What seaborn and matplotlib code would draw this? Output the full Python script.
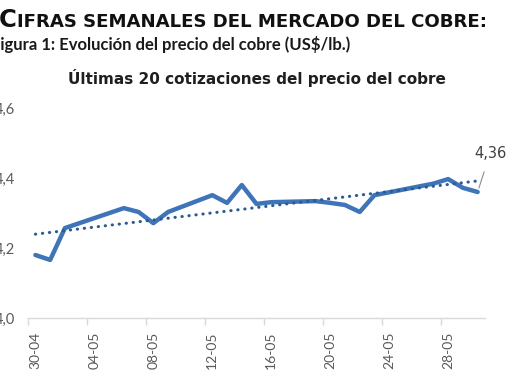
import matplotlib
matplotlib.use("Agg")
import matplotlib.pyplot as plt
import numpy as np
import pandas as pd
import seaborn as sns

# Datos: últimas cotizaciones del cobre (US$/lb.)
fechas = ["30-04", "01-05", "02-05", "06-05", "07-05", "08-05", "09-05",
          "12-05", "13-05", "14-05", "15-05", "16-05", "19-05", "20-05",
          "21-05", "22-05", "23-05", "27-05", "28-05", "29-05", "30-05"]
precios = [4.180, 4.166, 4.257, 4.314, 4.303, 4.271, 4.303,
           4.351, 4.329, 4.380, 4.326, 4.331, 4.334, 4.329,
           4.323, 4.303, 4.351, 4.384, 4.397, 4.372, 4.360]
x_tick_labels = ["30-04", "04-05", "08-05", "12-05", "16-05", "20-05", "24-05", "28-05"]
y_ticks = [4.0, 4.2, 4.4, 4.6]
y_tick_labels = ["4,0", "4,2", "4,4", "4,6"]
ultimo_label = "4,36"

df = pd.DataFrame({"fecha": fechas, "precio": precios})
df["dt"] = pd.to_datetime(df["fecha"] + "-2025", format="%d-%m-%Y")
df["dia"] = (df["dt"] - df["dt"].iloc[0]).dt.days
tick_pos = [(pd.to_datetime(t + "-2025", format="%d-%m-%Y") - df["dt"].iloc[0]).days
            for t in x_tick_labels]

sns.set_theme(style="white")
plt.rcParams["font.family"] = ["DejaVu Sans"]

fig = plt.figure(figsize=(5.1, 3.82), dpi=100)
ax = fig.add_axes([0.055, 0.1675, 0.896, 0.5497])

# serie principal
sns.lineplot(data=df, x="dia", y="precio", ax=ax, color="#3f74b8",
             linewidth=3.2, solid_joinstyle="round", solid_capstyle="round")

# línea de tendencia (lineal)
sns.regplot(data=df, x="dia", y="precio", ax=ax, scatter=False, ci=None,
            line_kws=dict(color="#2c5a92", linewidth=2.2,
                          linestyle=(0, (0.1, 2.2)), dash_capstyle="round",
                          zorder=4))

ax.set_xlim(-0.5, 30.5)
ax.set_ylim(4.0, 4.6)
ax.set_xlabel("")
ax.set_ylabel("")

ax.set_yticks(y_ticks)
ax.set_yticklabels(y_tick_labels, family="Lato")
ax.tick_params(axis="y", length=0, pad=9.5, labelsize=10.5, labelcolor="#595959")

ax.set_xticks(tick_pos)
ax.set_xticklabels(x_tick_labels, rotation=90, family="Lato")
ax.set_xticks([p - 0.5 for p in tick_pos], minor=True)
ax.tick_params(axis="x", which="major", length=0, pad=10, labelsize=10,
               labelcolor="#595959")
ax.tick_params(axis="x", which="minor", bottom=True, length=5, width=1,
               color="#d9d9d9")

for s in ["left", "right", "top"]:
    ax.spines[s].set_visible(False)
ax.spines["bottom"].set_color("#d9d9d9")
ax.spines["bottom"].set_linewidth(1)

# etiqueta del último dato
ax.annotate(ultimo_label, xy=(df["dia"].iloc[-1], df["precio"].iloc[-1]),
            xytext=(9, 28), textcoords="offset points", ha="center", va="center",
            fontsize=10.5, color="#404040",
            arrowprops=dict(arrowstyle="-", color="#8c8c8c", lw=0.8,
                            shrinkA=6, shrinkB=3))

# títulos
ax.set_title("Últimas 20 cotizaciones del precio del cobre", family="DejaVu Sans",
             fontsize=11, fontweight="bold", color="#1f1f1f", pad=17)

c = fig.text(-0.003, 0.929, "C", fontsize=17.5, fontweight="bold",
             color="#111111", va="baseline")
fig.canvas.draw()
bb = c.get_window_extent()
fig.text(bb.x1 / 510 + 0.002, 0.929, "IFRAS SEMANALES DEL MERCADO DEL COBRE:",
         fontsize=13.1, fontweight="bold", color="#111111", va="baseline")
fig.text(-0.018, 0.869, "Figura 1: Evolución del precio del cobre (US$/lb.)",
         family="Lato", fontsize=12, fontweight="bold", color="#1a1a1a",
         va="baseline")

fig.savefig("out.png", dpi=100)
